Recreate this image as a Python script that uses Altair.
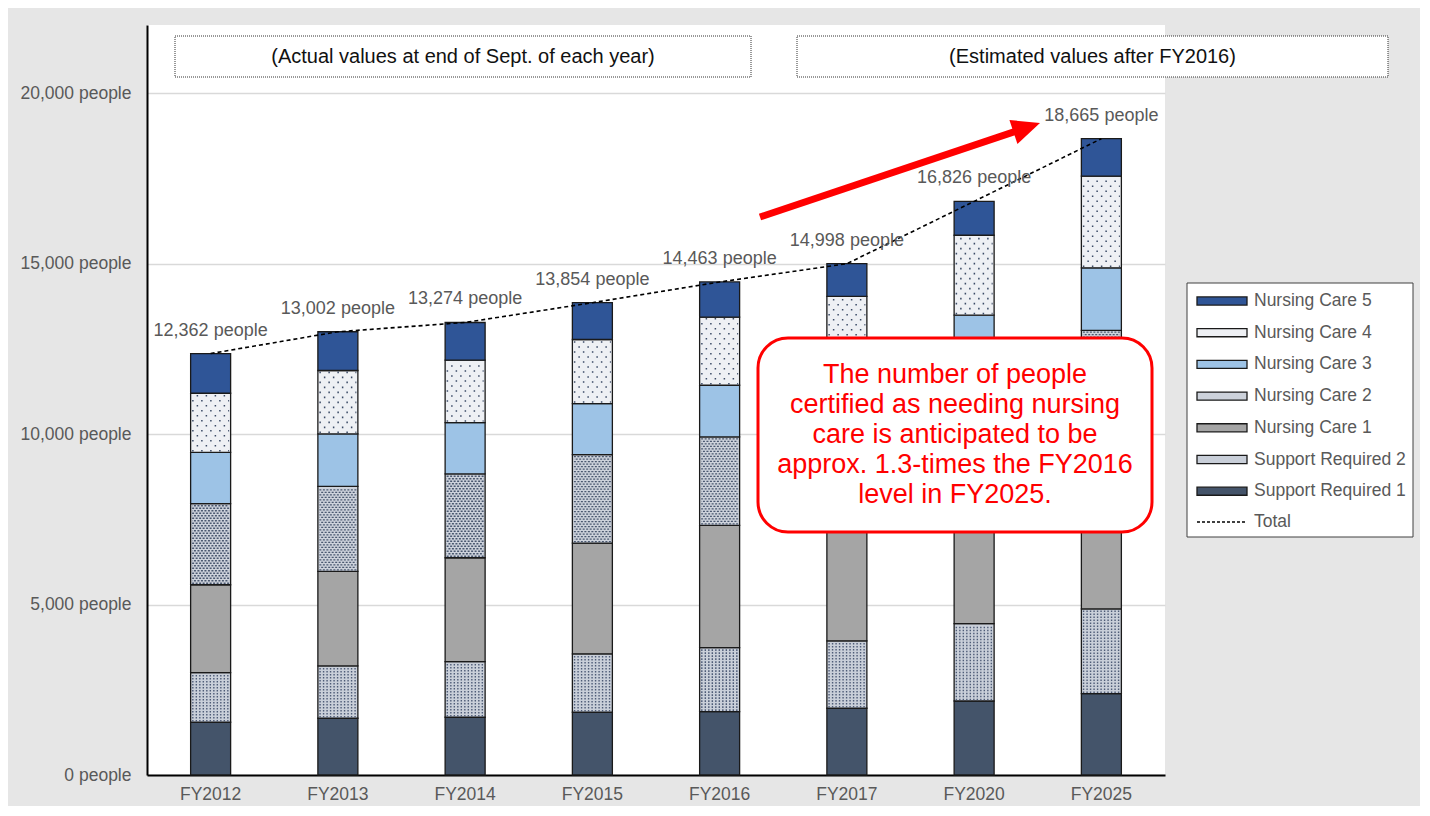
import altair as alt
import pandas as pd

fiscal_years = ["FY2012", "FY2013", "FY2014", "FY2015", "FY2016", "FY2017", "FY2020", "FY2025"]
support_required_1 = [1547, 1665, 1694, 1841, 1859, 1958, 2170, 2385]
support_required_2 = [1458, 1536, 1633, 1713, 1880, 1977, 2268, 2487]
nursing_care_1 = [2575, 2770, 3046, 3250, 3583, 3773, 4200, 4700]
nursing_care_2 = [2379, 2496, 2458, 2594, 2596, 2720, 3150, 3471]
nursing_care_3 = [1507, 1538, 1507, 1498, 1515, 1560, 1701, 1835]
nursing_care_4 = [1732, 1860, 1830, 1879, 1998, 2050, 2344, 2690]
nursing_care_5 = [1164, 1137, 1106, 1079, 1032, 960, 993, 1097]
totals = [12362, 13002, 13274, 13854, 14463, 14998, 16826, 18665]

series_names = ["Support Required 1", "Support Required 2", "Nursing Care 1", "Nursing Care 2",
                "Nursing Care 3", "Nursing Care 4", "Nursing Care 5"]
series_values = [support_required_1, support_required_2, nursing_care_1, nursing_care_2,
                 nursing_care_3, nursing_care_4, nursing_care_5]
legend_order = list(reversed(series_names))
legend_colors = ["#2f5597", "#eef0f4", "#9dc3e6", "#cdd2db", "#a5a5a5", "#c9cfd9", "#44546a"]

callout_lines = ["The number of people", "certified as needing nursing", "care is anticipated to be",
                 "approx. 1.3-times the FY2016", "level in FY2025."]
note_actual = "(Actual values at end of Sept. of each year)"
note_estimated = "(Estimated values after FY2016)"

rows = []
for order, (name, vals) in enumerate(zip(series_names, series_values)):
    for fy, v in zip(fiscal_years, vals):
        rows.append({"FY": fy, "series": name, "value": v, "order": order})
df = pd.DataFrame(rows)
total_df = pd.DataFrame({"FY": fiscal_years, "total": totals, "kind": ["Total"] * len(totals)})
deco_df = pd.DataFrame({"k": [0]})

FONT = "Liberation Sans"
GREY_TXT = "#595959"
PX = 22000 / 750.0  # people per pixel

x_enc = alt.X("FY:N", sort=fiscal_years,
              scale=alt.Scale(paddingInner=0.2, paddingOuter=0.1),
              axis=alt.Axis(title=None, labelAngle=0, ticks=False, domainColor="black",
                            domainWidth=2, labelPadding=10, labelFontSize=17.5,
                            labelColor=GREY_TXT, labelFont=FONT))

base = alt.Chart(df).transform_stack(
    stack="value", groupby=["FY"], sort=[alt.SortField("order", order="ascending")], as_=["y0", "y1"]
)

bars = base.mark_bar(size=40, stroke="#1a1a1a", strokeWidth=1.3).encode(
    x=x_enc,
    y=alt.Y("y0:Q", scale=alt.Scale(domain=[0, 22000], nice=False),
            axis=alt.Axis(title=None, values=[0, 5000, 10000, 15000, 20000],
                          labelExpr="format(datum.value, ',') + ' people'",
                          ticks=False, domainColor="black", domainWidth=2,
                          gridColor="#d9d9d9", gridWidth=1.5, labelFontSize=17.5,
                          labelColor=GREY_TXT, labelFont=FONT, labelPadding=16)),
    y2="y1:Q",
    fill=alt.Fill("series:N", scale=alt.Scale(domain=legend_order, range=legend_colors),
                  legend=alt.Legend(title=None, orient="none", legendX=1059, legendY=260,
                                    symbolType="M-1.667,-0.27H1.667V0.27H-1.667Z",
                                    symbolSize=900, symbolStrokeColor="#1a1a1a",
                                    symbolStrokeWidth=1.3, symbolOpacity=1,
                                    labelFont=FONT, labelFontSize=17.5, labelColor=GREY_TXT,
                                    labelOffset=16, rowPadding=6.7, padding=0)),
)


def texture(cat, step_px, phase, nphase, dash, dash_offset, color, width):
    step = step_px * PX
    start = 1.5 * PX + phase * step
    return base.transform_filter(alt.datum.series == cat).transform_calculate(
        rows=f"sequence(datum.y0 + {start:.2f}, datum.y1 - {1.2 * PX:.2f}, {step * nphase:.2f})"
    ).transform_flatten(["rows"]).mark_rule(
        xOffset=-18.5, x2Offset=18.5, strokeDash=dash, strokeDashOffset=dash_offset,
        color=color, strokeWidth=width
    ).encode(x=alt.X("FY:N", sort=fiscal_years), x2=alt.X2("FY"), y="rows:Q")


textures = [
    texture("Nursing Care 4", 5.0, 0, 2, [1.5, 7.5], 0, "#3b4a66", 1.6),
    texture("Nursing Care 4", 5.0, 1, 2, [1.5, 7.5], 4.5, "#3b4a66", 1.6),
    texture("Nursing Care 2", 2.5, 0, 2, [2, 1.5], 0, "#4a5870", 1.3),
    texture("Nursing Care 2", 2.5, 1, 2, [2, 1.5], 1.7, "#4a5870", 1.3),
    texture("Support Required 2", 3.0, 0, 1, [1.4, 2.1], 0, "#4e5c77", 1.6),
]

total_line = alt.Chart(total_df).mark_line(strokeDash=[4, 3], strokeWidth=1.6).encode(
    x=alt.X("FY:N", sort=fiscal_years),
    y="total:Q",
    stroke=alt.Stroke("kind:N", scale=alt.Scale(domain=["Total"], range=["#000000"]),
                      legend=alt.Legend(title=None, orient="none", legendX=1059, legendY=481,
                                        symbolType="M-1.667,0H1.667", symbolSize=900,
                                        symbolDash=[3, 2], symbolStrokeWidth=1.5,
                                        symbolStrokeColor="#000000",
                                        labelFont=FONT, labelFontSize=17.5, labelColor=GREY_TXT,
                                        labelOffset=16, padding=0)),
)

total_labels = alt.Chart(total_df).transform_calculate(
    label="format(datum.total, ',') + ' people'"
).mark_text(dy=-23, fontSize=18, color=GREY_TXT, font=FONT).encode(
    x=alt.X("FY:N", sort=fiscal_years), y="total:Q", text="label:N"
)

deco = alt.Chart(deco_df)
box_style = dict(fill="white", stroke="#333333", strokeWidth=1, strokeDash=[1, 1])
note_box1 = deco.mark_rect(**box_style).encode(
    x=alt.value(28), x2=alt.value(604), y=alt.value(11), y2=alt.value(52))
note_box2 = deco.mark_rect(**box_style).encode(
    x=alt.value(650), x2=alt.value(1241), y=alt.value(11), y2=alt.value(52))
note_text1 = deco.mark_text(fontSize=20, font=FONT, color="#111111", baseline="middle").encode(
    x=alt.value(316), y=alt.value(32), text=alt.value(note_actual))
note_text2 = deco.mark_text(fontSize=20, font=FONT, color="#111111", baseline="middle").encode(
    x=alt.value(945.5), y=alt.value(32), text=alt.value(note_estimated))

arrow_line = deco.mark_rule(color="#ff0000", strokeWidth=7).encode(
    x=alt.value(613), y=alt.value(192), x2=alt.value(880), y2=alt.value(102.5))
arrow_head = deco.mark_point(shape="M1,0L-1,-0.9L-1,0.9Z", filled=True, color="#ff0000",
                             opacity=1, size=784, angle=341.4).encode(
    x=alt.value(879.7), y=alt.value(102.5))

callout_box = deco.mark_rect(cornerRadius=30, fill="white", stroke="#ff0000", strokeWidth=3).encode(
    x=alt.value(611), x2=alt.value(1005), y=alt.value(313), y2=alt.value(507))
callout_text = deco.mark_text(fontSize=27, lineHeight=30, font=FONT, color="#ff0000",
                              align="center", baseline="middle").encode(
    x=alt.value(808), y=alt.value(350), text=alt.value(callout_lines))

legend_box = deco.mark_rect(fill="white", stroke="#404040", strokeWidth=1).encode(
    x=alt.value(1040), x2=alt.value(1266), y=alt.value(258), y2=alt.value(512))

chart = alt.layer(
    note_box1, note_box2, note_text1, note_text2, legend_box,
    bars, *textures, total_line, total_labels,
    arrow_line, arrow_head, callout_box, callout_text,
).properties(
    width=1018, height=750,
    autosize=alt.AutoSizeParams(type="none"),
    padding={"left": 139, "top": 17, "right": 255, "bottom": 31},
).configure(background="#e6e6e6", font=FONT).configure_view(fill="white", strokeWidth=0)

chart.save("out.html", embed_options={"renderer": "svg", "actions": False})
